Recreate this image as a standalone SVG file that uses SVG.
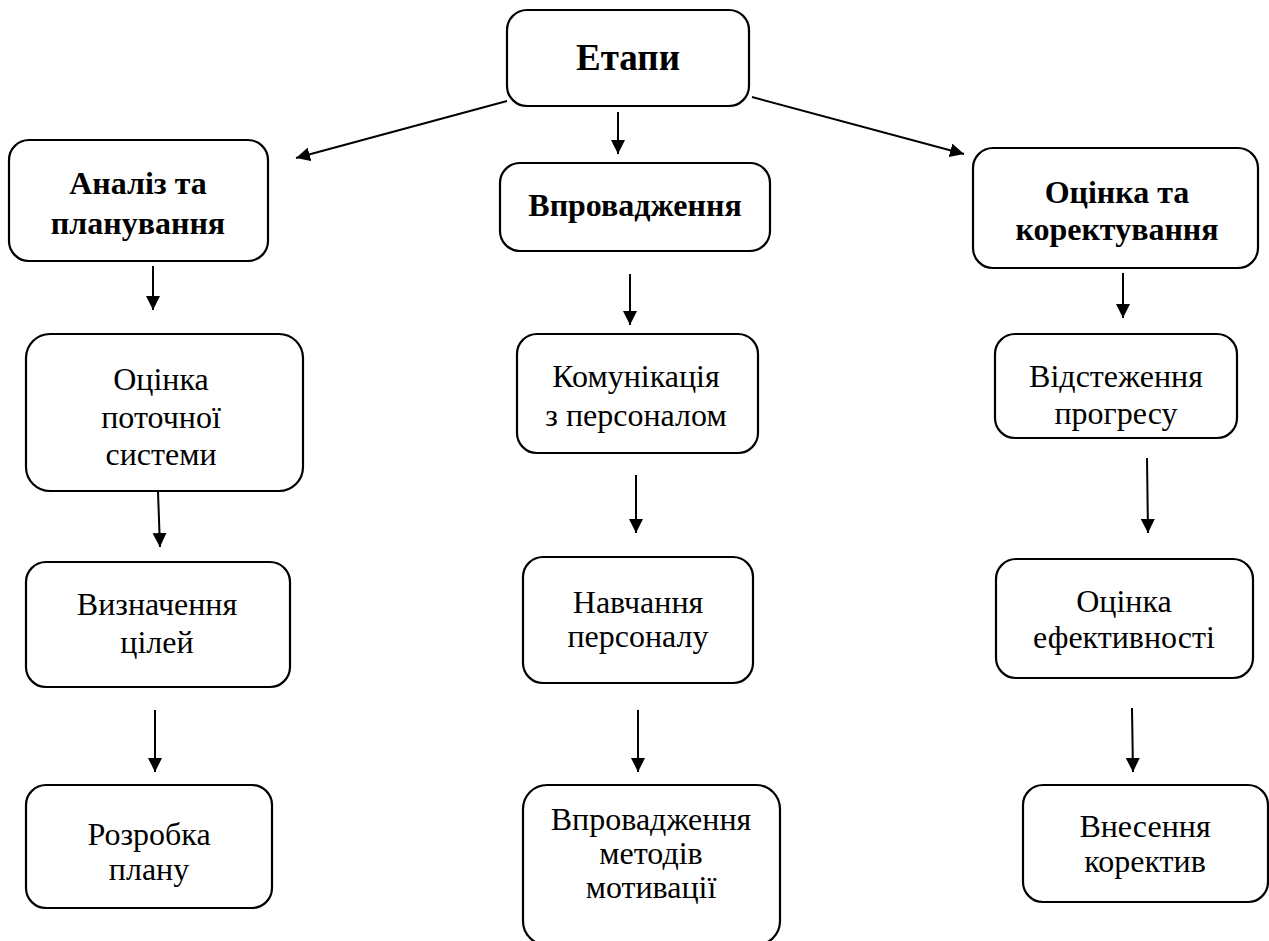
<svg xmlns="http://www.w3.org/2000/svg" width="1269" height="941" viewBox="0 0 1269 941">
<defs>
<style>
.box{fill:#fff;stroke:#000;stroke-width:2.2}
.t{font-family:"Liberation Serif","Times New Roman",serif;font-size:32px;fill:#000;text-anchor:middle}
.b{font-weight:bold}
.big{font-size:37px}
.c{stroke:#000;stroke-width:2;fill:none;marker-end:url(#ah)}
</style>
<marker id="ah" viewBox="0 0 14 14" refX="14" refY="7" markerWidth="14" markerHeight="14" markerUnits="userSpaceOnUse" orient="auto">
<path d="M0,0 L14,7 L0,14 z" fill="#000"/>
</marker>
</defs>
<rect width="1269" height="941" fill="#fff"/>
<g id="connectors">
<line class="c" x1="507" y1="101" x2="296" y2="158"/>
<line class="c" x1="618" y1="112" x2="618" y2="154"/>
<line class="c" x1="752" y1="97" x2="964" y2="154"/>
<line class="c" x1="153" y1="266" x2="153" y2="310"/>
<line class="c" x1="630" y1="274" x2="630" y2="325"/>
<line class="c" x1="1123" y1="273" x2="1123" y2="318"/>
<line class="c" x1="158" y1="492" x2="160" y2="547"/>
<line class="c" x1="155" y1="710" x2="155" y2="772"/>
<line class="c" x1="636" y1="475" x2="636" y2="533"/>
<line class="c" x1="638" y1="710" x2="638" y2="772"/>
<line class="c" x1="1147" y1="458" x2="1148" y2="533"/>
<line class="c" x1="1132" y1="708" x2="1133" y2="772"/>
</g>
<g id="etapy"><rect class="box" x="507" y="10" width="242" height="96" rx="20"/><text class="t b big" x="628" y="70">Етапи</text></g>
<g id="analiz"><rect class="box" x="9" y="140" width="259" height="121" rx="20"/><text class="t b" x="138" y="194">Аналіз та</text><text class="t b" x="138" y="234">планування</text></g>
<g id="vprovadzhennia"><rect class="box" x="500" y="163" width="270" height="88" rx="20"/><text class="t b" x="635" y="216">Впровадження</text></g>
<g id="otsinka-korekt"><rect class="box" x="973" y="148" width="285" height="120" rx="20"/><text class="t b" x="1117" y="203">Оцінка та</text><text class="t b" x="1117" y="240">коректування</text></g>
<g id="otsinka-systemy"><rect class="box" x="26" y="334" width="277" height="157" rx="24"/><text class="t" x="161" y="390">Оцінка</text><text class="t" x="161" y="428">поточної</text><text class="t" x="161" y="465">системи</text></g>
<g id="vyznachennia"><rect class="box" x="26" y="562" width="264" height="125" rx="20"/><text class="t" x="157" y="615">Визначення</text><text class="t" x="157" y="653">цілей</text></g>
<g id="rozrobka"><rect class="box" x="26" y="785" width="246" height="123" rx="20"/><text class="t" x="149" y="845">Розробка</text><text class="t" x="149" y="880">плану</text></g>
<g id="komunikatsiia"><rect class="box" x="517" y="334" width="241" height="119" rx="20"/><text class="t" x="636" y="387">Комунікація</text><text class="t" x="636" y="426">з персоналом</text></g>
<g id="navchannia"><rect class="box" x="523" y="557" width="230" height="126" rx="20"/><text class="t" x="638" y="613">Навчання</text><text class="t" x="638" y="647">персоналу</text></g>
<g id="motyvatsiia"><rect class="box" x="523" y="785" width="257" height="160" rx="24"/><text class="t" x="651" y="830">Впровадження</text><text class="t" x="651" y="864">методів</text><text class="t" x="651" y="898">мотивації</text></g>
<g id="vidstezhennia"><rect class="box" x="995" y="334" width="242" height="104" rx="20"/><text class="t" x="1116" y="387">Відстеження</text><text class="t" x="1116" y="424">прогресу</text></g>
<g id="efektyvnist"><rect class="box" x="996" y="559" width="257" height="119" rx="20"/><text class="t" x="1124" y="612">Оцінка</text><text class="t" x="1124" y="648">ефективності</text></g>
<g id="korektyvy"><rect class="box" x="1023" y="785" width="245" height="117" rx="20"/><text class="t" x="1145" y="837">Внесення</text><text class="t" x="1145" y="872">коректив</text></g>
</svg>
